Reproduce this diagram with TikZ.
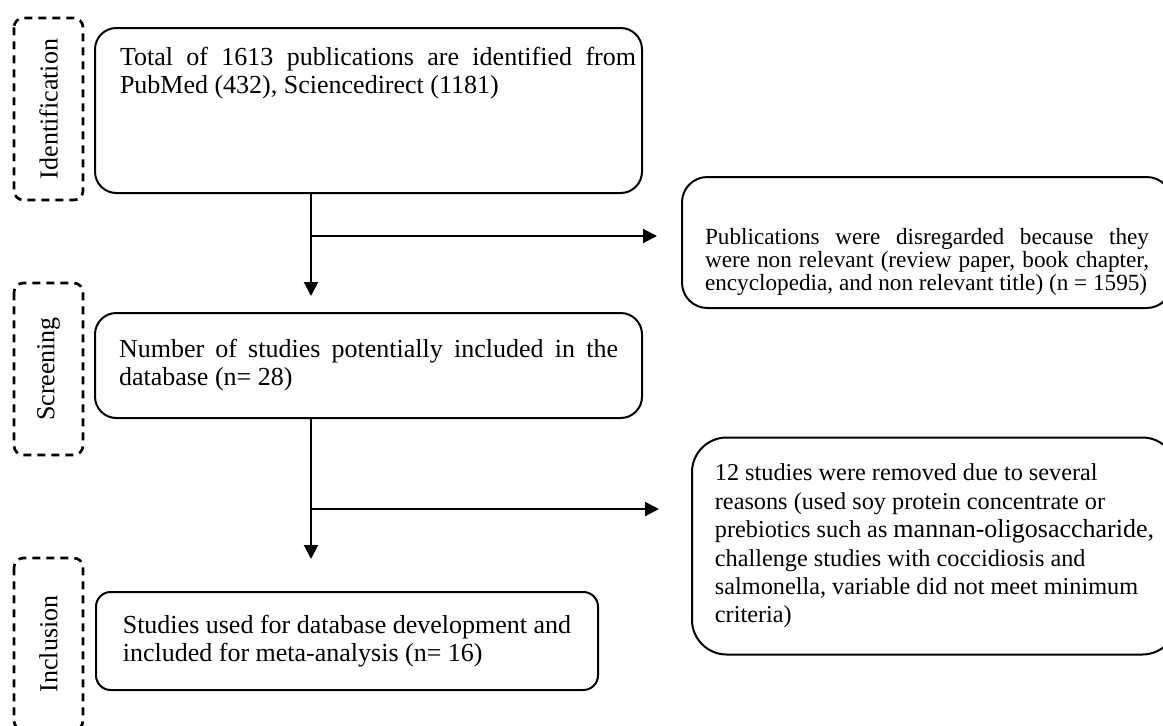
\documentclass[tikz,border=0pt]{standalone}
\usepackage{fontspec}
\setmainfont{Liberation Serif}
\usepackage{tikz}
\usetikzlibrary{arrows.meta}

\begin{document}
\begin{tikzpicture}[x=0.75pt,y=-0.75pt,
        box/.style={draw,line width=1.5pt,rounded corners=16pt,
                font=\fontsize{19.5}{21}\selectfont},
        phase/.style={draw,line width=2pt,rounded corners=7pt,
                dash pattern=on 6pt off 4.5pt,rotate=90,inner sep=0pt,
                minimum height=51.75pt,font=\fontsize{19.5}{21}\selectfont},
        arr/.style={line width=1.5pt,-{Triangle[width=10.5pt,length=10.5pt]}}]

        \useasboundingbox (0,0) rectangle (1163,725);

        \node[phase,minimum width=136.5pt] (id) at (48.5,109) {Identification};
        \node[phase,minimum width=129pt] (sc) at (48.5,369) {Screening};
        \node[phase,minimum width=129pt] (in) at (48.5,644) {Inclusion};

        \node[box,anchor=north,inner xsep=4.5pt,inner ysep=4pt,
                text height=23.75pt,text depth=92pt] (b1) at (368.5,27)
                {\hspace*{14.25pt}\parbox[t]{387pt}{Total of 1613 publications are identified from PubMed (432), Sciencedirect (1181)}};

        \node[box,text width=374.25pt,inner xsep=18pt,minimum height=78.75pt,
                align=justify] (b2) at (368.5,365.5)
                {Number of studies potentially included in the database (n= 28)};

        \node[box,rounded corners=11pt,minimum width=376.5pt,minimum height=73.5pt,
                align=left] (b3) at (347,641)
                {Studies used for database development and\\
                included for meta-analysis (n= 16)};

        \node[box,anchor=north,rounded corners=19pt,text width=333pt,inner xsep=17.25pt,
                inner ysep=4pt,align=justify,text height=46.25pt,text depth=44pt,
                font=\fontsize{17.4}{17.6}\selectfont] (r1) at (927,176)
                {\hyphenpenalty=10000 Publications were disregarded because they\linebreak
                were non relevant (review paper, book chapter,\linebreak
                encyclopedia, and non relevant title) (n = 1595)};

        \node[box,rounded corners=26pt,minimum width=363.75pt,minimum height=162.75pt,
                align=left,font=\fontsize{18.2}{21.3}\selectfont] (r2) at (934.5,546)
                {12 studies were removed due to several\\
                reasons (used soy protein concentrate or\\
                prebiotics such as {\fontsize{19.5}{21.3}\selectfont mannan-oligosaccharide,}\\
                challenge studies with coccidiosis and\\
                salmonella, variable did not meet minimum\\
                criteria)};

        \coordinate (t1) at (311,296);
        \coordinate (s1) at (311,236);
        \coordinate (e1) at (657,236);

        \coordinate (t2) at (311,559);
        \coordinate (s2) at (311,509);
        \coordinate (e2) at (659,509);

        \draw[arr] (b1.south -| t1) -- (t1);
        \draw[arr] (s1) -- (e1);
        \draw[arr] (b2.south -| t2) -- (t2);
        \draw[arr] (s2) -- (e2);
\end{tikzpicture}
\end{document}
